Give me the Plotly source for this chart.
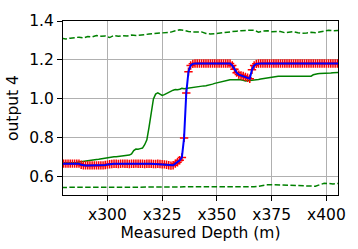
import plotly.graph_objects as go

# ---- data ----
depth = list(range(279, 407))  # 1 m step

prediction = (
    [0.668] * 9 +                                   # 279-287
    [0.662, 0.659, 0.659, 0.659, 0.659, 0.659, 0.659, 0.659, 0.659, 0.659, 0.659,  # 288-298
     0.661, 0.663, 0.665] +                         # 299-301
    [0.666, 0.667, 0.667, 0.666, 0.667, 0.668, 0.667, 0.667, 0.666, 0.667,          # 302-311
     0.667, 0.668, 0.667, 0.667, 0.667, 0.666, 0.667, 0.667, 0.667, 0.666,          # 312-321
     0.666, 0.667, 0.666, 0.665, 0.664, 0.662] +                                    # 322-327
    [0.660, 0.658, 0.660, 0.668, 0.675, 0.685, 0.700, 0.800, 1.030, 1.140, 1.172,  # 328-338
     1.180] +                                       # 339
    [1.182] * 17 +                                  # 340-356
    [1.172, 1.152, 1.135, 1.125, 1.121, 1.118, 1.113, 1.109, 1.104, 1.150, 1.172, 1.180] +  # 357-368
    [1.182] * 38                                    # 369-406
)

green_solid = [
    0.672, 0.672, 0.672, 0.672, 0.672, 0.672, 0.672, 0.674, 0.676, 0.678,  # 279-288
    0.679, 0.681, 0.683, 0.685, 0.687, 0.688, 0.689, 0.690, 0.692, 0.693,  # 289-298
    0.697, 0.700, 0.701, 0.702, 0.703, 0.703, 0.705, 0.706, 0.709, 0.711,  # 299-308
    0.713, 0.712, 0.718, 0.735, 0.743, 0.742, 0.745, 0.748, 0.765, 0.790,  # 309-318
    0.855, 0.930, 1.000, 1.025, 1.031, 1.025, 1.018, 1.022, 1.028, 1.035,  # 319-328
    1.042, 1.045, 1.048, 1.047, 1.050, 1.055, 1.052, 1.054, 1.056, 1.058,  # 329-338
    1.060, 1.062, 1.064, 1.066, 1.066, 1.067, 1.068, 1.070, 1.072, 1.076,  # 339-348
    1.080, 1.083, 1.085, 1.088, 1.092, 1.095, 1.097, 1.098, 1.099, 1.098,  # 349-358
    1.099, 1.100, 1.099, 1.096, 1.092, 1.093, 1.094, 1.094, 1.096, 1.098,  # 359-368
    1.100, 1.102, 1.104, 1.108, 1.110, 1.112, 1.113, 1.114, 1.115, 1.116,  # 369-378
    1.117, 1.117, 1.118, 1.118, 1.118, 1.118, 1.118, 1.117, 1.118, 1.119,  # 379-388
    1.118, 1.117, 1.118, 1.118, 1.117, 1.124, 1.128, 1.129, 1.130, 1.130,  # 389-398
    1.131, 1.132, 1.132, 1.133, 1.134, 1.135, 1.135, 1.136,                # 399-406
]

depth_band = list(range(279, 409, 2))  # 2 m step

upper_band = [
    1.311, 1.308, 1.312, 1.313, 1.317, 1.313, 1.320, 1.318, 1.325, 1.322,
    1.323, 1.315, 1.326, 1.322, 1.325, 1.323, 1.328, 1.326, 1.327, 1.330,
    1.333, 1.335, 1.337, 1.338, 1.340, 1.343, 1.350, 1.355, 1.352, 1.346,
    1.344, 1.345, 1.344, 1.336, 1.333, 1.335, 1.338, 1.340, 1.345, 1.347,
    1.348, 1.350, 1.352, 1.353, 1.352, 1.343, 1.349, 1.350, 1.345, 1.347,
    1.346, 1.340, 1.342, 1.345, 1.340, 1.337, 1.338, 1.342, 1.340, 1.344,
    1.345, 1.352, 1.350, 1.352, 1.353,
]

lower_band = [
    0.546, 0.546, 0.546, 0.547, 0.546, 0.546, 0.546, 0.545, 0.546, 0.546,
    0.546, 0.545, 0.546, 0.546, 0.546, 0.546, 0.545, 0.545, 0.546, 0.546,
    0.546, 0.546, 0.546, 0.546, 0.547, 0.547, 0.548, 0.548, 0.549, 0.549,
    0.548, 0.549, 0.550, 0.550, 0.549, 0.550, 0.550, 0.551, 0.550, 0.550,
    0.551, 0.550, 0.550, 0.550, 0.549, 0.552, 0.557, 0.559, 0.560, 0.559,
    0.558, 0.558, 0.557, 0.558, 0.557, 0.556, 0.554, 0.553, 0.552, 0.560,
    0.567, 0.566, 0.564, 0.566, 0.566,
]

x_tickvals = [300, 325, 350, 375, 400]
x_ticktext = ["x300", "x325", "x350", "x375", "x400"]
y_tickvals = [0.6, 0.8, 1.0, 1.2, 1.4]

GREEN = "#008000"
DASH = "5.5px,2.4px"

fig = go.Figure()
fig.add_trace(go.Scatter(x=depth_band, y=upper_band, mode="lines",
                         line=dict(color=GREEN, width=1.5, dash=DASH)))
fig.add_trace(go.Scatter(x=depth_band, y=lower_band, mode="lines",
                         line=dict(color=GREEN, width=1.5, dash=DASH)))
fig.add_trace(go.Scatter(x=depth, y=green_solid, mode="lines",
                         line=dict(color=GREEN, width=1.5)))
fig.add_trace(go.Scatter(x=depth, y=prediction, mode="markers",
                         marker=dict(symbol="cross-thin", size=6, color="red",
                                     line=dict(color="red", width=1.5))))
fig.add_trace(go.Scatter(x=depth, y=prediction, mode="lines",
                         line=dict(color="blue", width=2)))

font = dict(family="DejaVu Sans", size=15.5, color="black")
fig.update_layout(
    width=358, height=249,
    margin=dict(l=59, r=19, t=17, b=51),
    paper_bgcolor="white", plot_bgcolor="white",
    showlegend=False,
    font=font,
)
fig.update_xaxes(
    range=[279.7, 405.3], tickvals=x_tickvals, ticktext=x_ticktext,
    showgrid=True, gridcolor="#b0b0b0", gridwidth=1,
    showline=True, linecolor="black", linewidth=1, mirror=True,
    ticks="outside", ticklen=5, tickcolor="black",
    zeroline=False,
    title=dict(text="Measured Depth (m)", font=font, standoff=3),
)
fig.update_yaxes(
    range=[0.507, 1.4], tickvals=y_tickvals, tickformat=".1f",
    showgrid=True, gridcolor="#b0b0b0", gridwidth=1,
    showline=True, linecolor="black", linewidth=1, mirror=True,
    ticks="outside", ticklen=5, tickcolor="black",
    zeroline=False,
    title=dict(text="output 4", font=font, standoff=6),
)

fig.write_html("out.html",
               config={"displayModeBar": False},
               post_script="document.body.style.margin='0';document.body.style.padding='0';")
